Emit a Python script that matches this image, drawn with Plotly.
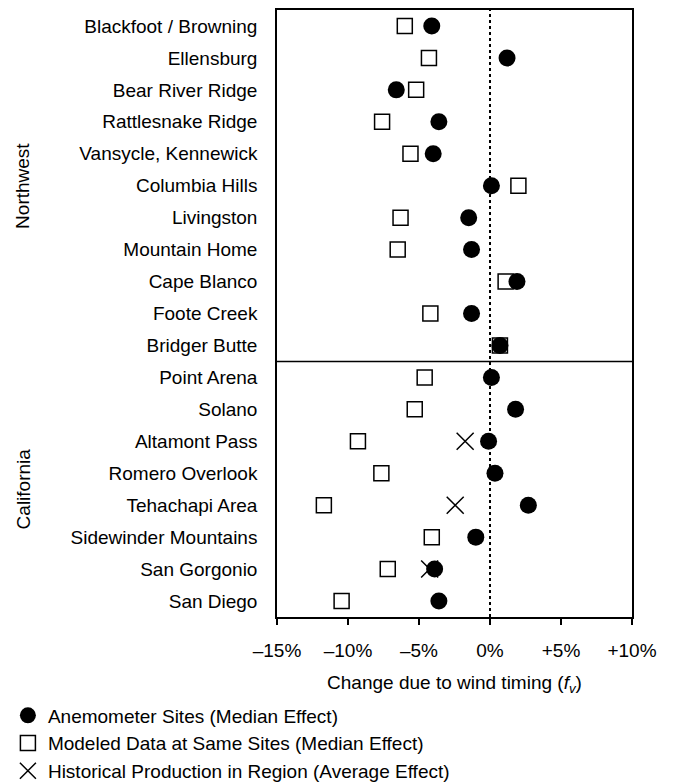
import plotly.graph_objects as go

sites = ["Blackfoot / Browning", "Ellensburg", "Bear River Ridge", "Rattlesnake Ridge",
         "Vansycle, Kennewick", "Columbia Hills", "Livingston", "Mountain Home",
         "Cape Blanco", "Foote Creek", "Bridger Butte", "Point Arena", "Solano",
         "Altamont Pass", "Romero Overlook", "Tehachapi Area", "Sidewinder Mountains",
         "San Gorgonio", "San Diego"]
anemometer = [-4.1, 1.2, -6.6, -3.6, -4.0, 0.1, -1.5, -1.3, 1.9, -1.3, 0.7,
              0.1, 1.8, -0.1, 0.35, 2.7, -1.0, -3.9, -3.6]
modeled = [-6.0, -4.3, -5.2, -7.6, -5.6, 2.0, -6.3, -6.5, 1.1, -4.2, 0.7,
           -4.6, -5.3, -9.3, -7.65, -11.7, -4.1, -7.2, -10.45]
hist_sites = ["Altamont Pass", "Tehachapi Area", "San Gorgonio"]
historical = [-1.75, -2.45, -4.25]
tick_vals = [-15, -10, -5, 0, 5, 10]
tick_text = ["\u201315%", "\u201310%", "\u20135%", "0%", "+5%", "+10%"]
regions = ["Northwest", "California"]
region_pos = [5, 14.5]

FONT = "Arial, Liberation Sans, sans-serif"
FS = 19

fig = go.Figure()
# squares first so the circles are drawn on top
fig.add_trace(go.Scatter(x=modeled, y=sites, mode="markers", legendrank=2,
                         name="Modeled Data at Same Sites (Median Effect)",
                         marker=dict(symbol="square-open", size=15, color="black",
                                     line=dict(width=1.5, color="black"))))
fig.add_trace(go.Scatter(x=historical, y=hist_sites, mode="markers", legendrank=3,
                         name="Historical Production in Region (Average Effect)",
                         marker=dict(symbol="x-thin-open", size=17, color="black",
                                     line=dict(width=1.5, color="black"))))
fig.add_trace(go.Scatter(x=anemometer, y=sites, mode="markers", legendrank=1,
                         name="Anemometer Sites (Median Effect)",
                         marker=dict(symbol="circle", size=17, color="black")))

fig.add_shape(type="line", x0=0, x1=0, y0=0, y1=1, xref="x", yref="paper",
              line=dict(color="black", width=2, dash="dot"), layer="below")
fig.add_shape(type="line", x0=0, x1=1, y0=10.5, y1=10.5, xref="paper", yref="y",
              line=dict(color="black", width=1.5))

for r, p in zip(regions, region_pos):
    fig.add_annotation(text=r, x=-0.715, xref="paper", y=p, yref="y",
                       textangle=-90, showarrow=False, xanchor="center",
                       font=dict(size=FS, color="black", family=FONT))

fig.update_xaxes(range=[-15, 10], tickvals=tick_vals, ticktext=tick_text,
                 showgrid=False, zeroline=False, showline=True, linecolor="black",
                 linewidth=1.5, mirror=True, ticks="outside", ticklen=6,
                 tickwidth=1.5, tickcolor="black", automargin=False, tickangle=0,
                 ticklabelstandoff=9,
                 tickfont=dict(size=FS, color="black", family=FONT),
                 title=dict(text="Change due to wind timing (<i>f</i><sub><i>v</i></sub>)",
                            font=dict(size=FS, color="black", family=FONT), standoff=16))
fig.update_yaxes(categoryorder="array", categoryarray=sites, range=[18.5, -0.5],
                 showgrid=False, zeroline=False, showline=True, linecolor="black",
                 linewidth=1.5, mirror=True, ticks="", ticklabelstandoff=14,
                 automargin=False,
                 tickfont=dict(size=FS, color="black", family=FONT))

fig.update_layout(width=673, height=783, plot_bgcolor="white", paper_bgcolor="white",
                  margin=dict(l=269, r=49, t=2, b=174, autoexpand=False),
                  font=dict(family=FONT, size=FS, color="black"),
                  legend=dict(x=-0.758, y=-0.131, xanchor="left", yanchor="top",
                              traceorder="normal",
                              font=dict(size=FS, family=FONT, color="black"),
                              itemwidth=30, tracegroupgap=0, bgcolor="rgba(0,0,0,0)"),
                  showlegend=True)

fig.write_html("out.html")
